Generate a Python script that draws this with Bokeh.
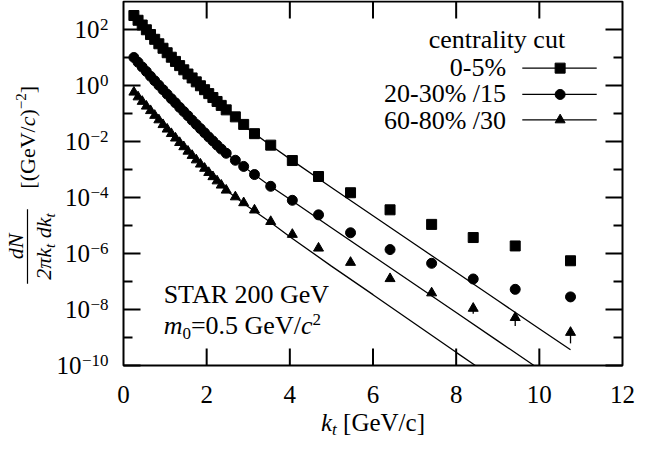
import math
from bokeh.plotting import figure
from bokeh.models import Range1d, Label
from bokeh.embed import file_html
from bokeh.resources import INLINE

# ---------------- data ----------------
k_pts = [0.25, 0.35, 0.45, 0.55, 0.65, 0.75, 0.85, 0.95, 1.05, 1.15, 1.25,
         1.35, 1.45, 1.55, 1.65, 1.75, 1.85, 1.95, 2.05, 2.15, 2.25, 2.35,
         2.47, 2.69, 2.89, 3.15, 3.54, 4.06, 4.69, 5.46, 6.41, 7.41, 8.41,
         9.42, 10.75]
sq_log10 = [2.50, 2.33, 2.16, 1.99, 1.82, 1.65, 1.49, 1.33, 1.17, 1.01, 0.86,
            0.71, 0.56, 0.41, 0.27, 0.13, -0.01, -0.15, -0.29, -0.43, -0.57, -0.71,
            -0.87, -1.12, -1.39, -1.72, -2.13, -2.68, -3.25, -3.83, -4.44, -4.96,
            -5.43, -5.73, -6.26]
ci_log10 = [1.00, 0.83, 0.66, 0.50, 0.33, 0.17, 0.01, -0.15, -0.31, -0.47, -0.62,
            -0.78, -0.93, -1.08, -1.24, -1.39, -1.54, -1.69, -1.84, -1.98, -2.13, -2.27,
            -2.42, -2.67, -2.89, -3.18, -3.60, -4.10, -4.62, -5.26, -5.86, -6.35,
            -6.91, -7.28, -7.55]
tr_log10 = [-0.24, -0.41, -0.57, -0.74, -0.90, -1.07, -1.23, -1.40, -1.56, -1.72, -1.88,
            -2.04, -2.19, -2.35, -2.50, -2.66, -2.81, -2.96, -3.11, -3.26, -3.41, -3.56,
            -3.74, -3.98, -4.19, -4.45, -4.86, -5.32, -5.81, -6.32, -6.90, -7.41,
            -7.96, -8.29, -8.82]
tr_err_k = [8.41, 9.42, 10.75]
tr_err_center_log10 = [-7.96, -8.29, -8.82]
tr_err_low_log10 = [-8.15, -8.59, -9.21]

fit_sq_k = [0.25, 0.5, 1.0, 1.5, 2.0, 2.5, 3.0, 3.5, 4.0, 5.0, 6.0, 7.0, 8.0, 9.0, 10.0, 10.75]
fit_sq_log10 = [2.50, 2.08, 1.25, 0.49, -0.22, -0.91, -1.55, -2.10, -2.62, -3.64, -4.65,
                -5.66, -6.67, -7.68, -8.69, -9.44]
fit_ci_k = [0.25, 0.5, 1.0, 1.5, 2.0, 2.5, 3.0, 3.5, 4.0, 5.0, 6.0, 7.0, 8.0, 9.0, 10.0]
fit_ci_log10 = [1.00, 0.58, -0.23, -1.00, -1.76, -2.46, -3.02, -3.56, -4.06, -5.08, -6.09,
                -7.10, -8.11, -9.12, -10.13]
fit_tr_k = [0.25, 0.5, 1.0, 1.5, 2.0, 2.5, 3.0, 3.5, 4.0, 5.0, 6.0, 7.0, 8.0, 8.6]
fit_tr_log10 = [-0.24, -0.65, -1.48, -2.27, -3.03, -3.78, -4.33, -4.85, -5.40, -6.45,
                -7.47, -8.50, -9.53, -10.14]

legend_title = "centrality cut"
legend_labels = ["0-5%", "20-30% /15", "60-80% /30"]
legend_markers = ["square", "circle", "triangle"]
x_ticks = [0, 2, 4, 6, 8, 10, 12]
y_tick_exp = [-10, -8, -6, -4, -2, 0, 2]
y_minor_exp = [-9, -7, -5, -3, -1, 1]

# ---------------- layout ----------------
FONT = "Liberation Serif"
W, H = 636, 438
CL, CR, CT, CB = 123, 622, 1, 365          # chart box in canvas px
XMIN, XMAX = 0, 12
EMIN, EMAX = -10, 3
PXX = (CR - CL) / (XMAX - XMIN)
PXD = (CB - CT) / (EMAX - EMIN)
MAJ, MIN_ = 17, 9
MID = 0.338                                 # baseline -> "middle" anchor, in em

WREG = {'0': .5, '1': .5, '2': .5, '3': .5, '4': .5, '5': .5, '6': .5, '7': .5, '8': .5, '9': .5,
        ' ': .25, '-': .333, '%': .833, '/': .278, '.': .25, '=': .564, '\u2212': .564,
        'G': .722, 'e': .444, 'V': .722, 'c': .444, '(': .333, ')': .333, '[': .333, ']': .333,
        'S': .556, 'T': .611, 'A': .722, 'R': .667}
WIT = {'m': .722, 'c': .444, 'k': .444, 't': .278, 'd': .5, 'N': .667, '2': .5, '\u03c0': .5, ' ': .25}


def tw(s, size, italic):
    tab = WIT if italic else WREG
    return sum(tab.get(ch, .5) for ch in s) * size


x_lo = XMIN - CL / PXX
x_hi = XMAX + (W - CR) / PXX
e_lo = EMIN - (H - CB) / PXD
e_hi = EMAX + CT / PXD

p = figure(width=W, height=H, x_range=Range1d(x_lo, x_hi),
           y_range=Range1d(10.0 ** e_lo, 10.0 ** e_hi), y_axis_type="log",
           x_axis_location=None, y_axis_location=None,
           output_backend="svg", toolbar_location=None,
           min_border_left=0, min_border_right=0, min_border_top=0, min_border_bottom=0)
p.grid.visible = False
p.outline_line_color = None
p.background_fill_color = "white"
p.border_fill_color = "white"

Y = lambda e: 10.0 ** e

# chart box
p.quad(left=[XMIN], right=[XMAX], bottom=[Y(EMIN)], top=[Y(EMAX)],
       fill_color=None, line_color="black", line_width=2)

# ticks (inward, on all four sides)
inner_x = [t for t in x_ticks if XMIN < t < XMAX]
p.segment(inner_x, [Y(EMIN)] * len(inner_x), inner_x, [Y(EMIN + MAJ / PXD)] * len(inner_x),
          line_color="black", line_width=2)
p.segment(inner_x, [Y(EMAX)] * len(inner_x), inner_x, [Y(EMAX - MAJ / PXD)] * len(inner_x),
          line_color="black", line_width=2)
for xe, sgn in ((XMIN, 1), (XMAX, -1)):
    for exps, ln in ((y_tick_exp, MAJ), (y_minor_exp, MIN_)):
        p.segment([xe] * len(exps), [Y(e) for e in exps],
                  [xe + sgn * ln / PXX] * len(exps), [Y(e) for e in exps],
                  line_color="black", line_width=2)


def clip_line(ks, ls):
    """cut a polyline (k, log10 y) where it leaves the chart box at the bottom"""
    out_k, out_l = [ks[0]], [ls[0]]
    for i in range(1, len(ks)):
        if ls[i] >= EMIN:
            out_k.append(ks[i]); out_l.append(ls[i])
        else:
            f = (ls[i - 1] - EMIN) / (ls[i - 1] - ls[i])
            out_k.append(ks[i - 1] + f * (ks[i] - ks[i - 1])); out_l.append(EMIN)
            break
    return out_k, [Y(v) for v in out_l]


# ---------------- data glyphs ----------------
for fk, fl in ((fit_sq_k, fit_sq_log10), (fit_ci_k, fit_ci_log10), (fit_tr_k, fit_tr_log10)):
    ck, cy = clip_line(fk, fl)
    p.line(ck, cy, line_color="black", line_width=1.3)

p.segment(tr_err_k, [Y(v) for v in tr_err_center_log10],
          tr_err_k, [Y(v) for v in tr_err_low_log10], line_color="black", line_width=1.3)

for series, mk in ((sq_log10, "square"), (ci_log10, "circle"), (tr_log10, "triangle")):
    p.scatter(k_pts, [Y(v) for v in series], marker=mk, size=10,
              fill_color="black", line_color="black")


# ---------------- text helpers ----------------
def lab(x, y, text, size, italic=False, align="left", xoff=0, angle=0):
    p.add_layout(Label(x=x, y=y, x_offset=xoff, text=text, text_font=FONT,
                       text_font_size=f"{size}px",
                       text_font_style="italic" if italic else "normal",
                       text_align=align, text_baseline="middle", text_color="black",
                       angle=angle))


def labb(x, ly_base, text, size, italic=False, align="left", xoff=0):
    """label whose baseline sits at log10 height ly_base"""
    lab(x, Y(ly_base + MID * size / PXD), text, size, italic, align, xoff)


def runs_width(runs):
    return sum(tw(t, s, i) for t, s, i, _ in runs)


def runs_h(x, ly_base, runs, xoff=0):
    off = xoff
    for text, size, italic, dy in runs:
        body = text.lstrip(" ")
        lead = tw(text[:len(text) - len(body)], size, italic)
        labb(x, ly_base + dy / PXD, body, size, italic, xoff=off + lead)
        off += tw(text, size, italic)


def runs_v(base_off, ly_center, runs):
    """rotated text reading upwards; base_off = offset of its baseline from the chart's left edge"""
    adv = -runs_width(runs) / 2
    for text, size, italic, raise_px in runs:
        body = text.lstrip(" ")
        lead = tw(text[:len(text) - len(body)], size, italic)
        lab(XMIN, Y(ly_center + (adv + lead) / PXD), body, size, italic,
            xoff=base_off - MID * size - raise_px, angle=math.pi / 2)
        adv += tw(text, size, italic)


# x tick labels
for t in x_ticks:
    labb(t, EMIN - 37 / PXD, str(t), 25, align="center")

# y tick labels: 10 with superscript exponent
for e in y_tick_exp:
    et = str(e).replace("-", "\u2212")
    ew = tw(et, 17, False)
    lab(XMIN, Y(e + 5 / PXD), et, 17, align="right", xoff=-15)
    lab(XMIN, Y(e), "10", 25, align="right", xoff=-15 - ew - 0.5)

# x axis title
xl_runs = [("k", 25, True, 0), ("t", 17, True, -5), (" [GeV/c]", 25, False, 0)]
runs_h((XMIN + XMAX) / 2, EMIN - 65 / PXD, xl_runs, xoff=-runs_width(xl_runs) / 2)

# y axis title (rotated fraction)
YS = 22
num_runs = [("dN", YS, True, 0)]
den_runs = [("2\u03c0k", YS, True, 0), ("t", 15, True, -5), (" dk", YS, True, 0), ("t", 15, True, -5)]
br_runs = [("[(GeV/", YS, False, 0), ("c", YS, True, 0), (")", YS, False, 0),
           ("\u22122", 15, False, 8), ("]", YS, False, 0)]
frac_c = -5.75
runs_v(-101, frac_c, num_runs)
runs_v(-73, frac_c, den_runs)
runs_v(-89, -1.85, br_runs)
bar_half = (runs_width(den_runs) + 8) / 2
bar_x = XMIN - 96 / PXX
p.segment([bar_x], [Y(frac_c - bar_half / PXD)], [bar_x], [Y(frac_c + bar_half / PXD)],
          line_color="black", line_width=1.2)

# annotations
AS = 26
labb(0.965, -7.77, "STAR 200 GeV", AS)
runs_h(0.965, -8.88, [("m", AS, True, 0), ("0", 17, False, -5), ("=0.5 GeV/", AS, False, 0),
                      ("c", AS, True, 0), ("2", 17, False, 9)])

# legend (labels left, samples right)
labb(10.62, 1.33, legend_title, AS, align="right")
row_line = [0.62, -0.32, -1.23]
row_text = [0.33, -0.61, -1.55]
for txt, mk, yl, yt in zip(legend_labels, legend_markers, row_line, row_text):
    labb(9.2, yt, txt, AS, align="right")
    p.line([9.59, 11.38], [Y(yl), Y(yl)], line_color="black", line_width=1.3)
    p.scatter([10.5], [Y(yl)], marker=mk, size=10, fill_color="black", line_color="black")

open("out.html", "w").write(file_html(p, INLINE))
